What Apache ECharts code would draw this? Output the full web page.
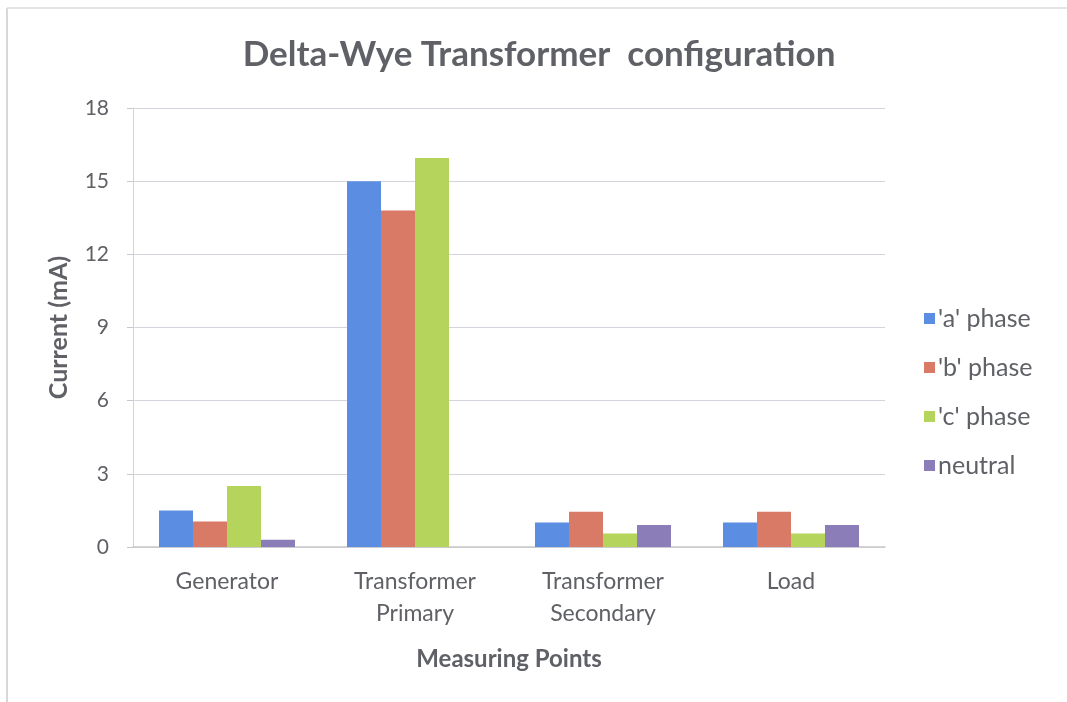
<!DOCTYPE html>
<html>
<head>
<meta charset="utf-8">
<script src="https://cdn.jsdelivr.net/npm/echarts@6/dist/echarts.min.js"></script>
<style>
  html, body { margin: 0; padding: 0; background: #fff; }
  #chart { width: 1067px; height: 702px; }
</style>
</head>
<body>
<div id="chart"></div>
<script>
// 数据
var categories = ['Generator', 'Transformer\nPrimary', 'Transformer\nSecondary', 'Load'];
var seriesNames = ["'a' phase", "'b' phase", "'c' phase", 'neutral'];
var aPhase = [1.5, 15, 1.0, 1.0];
var bPhase = [1.05, 13.8, 1.45, 1.45];
var cPhase = [2.5, 15.95, 0.55, 0.55];
var neutral = [0.3, 0, 0.9, 0.9];
var yTicks = [0, 3, 6, 9, 12, 15, 18];

var colors = ['#5b8de3', '#d97a66', '#b4d45c', '#8b7db8'];
var textColor = '#5f6166';
var font = 'Lato, "Open Sans", sans-serif';

var chart = echarts.init(document.getElementById('chart'));

function bar(name, data, color) {
  return {
    name: name,
    type: 'bar',
    data: data,
    barWidth: 34,
    barGap: '0%',
    itemStyle: { color: color }
  };
}

chart.setOption({
  textStyle: { fontFamily: font },
  title: {
    text: 'Delta-Wye Transformer  configuration',
    left: 534,
    top: 32,
    textAlign: 'center',
    textStyle: { fontSize: 35, fontWeight: 'bold', color: textColor, fontFamily: font }
  },
  legend: {
    orient: 'vertical',
    left: 919,
    top: 301,
    itemWidth: 11,
    itemHeight: 11,
    itemGap: 24,
    icon: 'rect',
    data: seriesNames,
    textStyle: { fontSize: 25, color: textColor, fontFamily: font, padding: [0, 0, 0, -2] }
  },
  grid: { left: 133, right: 182, top: 108, bottom: 155 },
  xAxis: {
    type: 'category',
    data: categories,
    name: 'Measuring Points',
    nameLocation: 'middle',
    nameGap: 100,
    nameTextStyle: { fontSize: 24, fontWeight: 'bold', color: textColor, fontFamily: font },
    axisLine: { lineStyle: { color: '#c8c8cc', width: 1.5 } },
    axisTick: { show: false },
    axisLabel: { fontSize: 23, color: textColor, lineHeight: 32, margin: 19, fontFamily: font }
  },
  yAxis: {
    type: 'value',
    min: yTicks[0],
    max: yTicks[yTicks.length - 1],
    interval: 3,
    name: 'Current (mA)',
    nameLocation: 'middle',
    nameGap: 62,
    nameTextStyle: { fontSize: 25, fontWeight: 'bold', color: textColor, fontFamily: font },
    axisLine: { show: true, lineStyle: { color: '#d4d4d8' } },
    axisTick: { show: true, length: 6, inside: false, lineStyle: { color: '#c8c8cc' } },
    axisLabel: { fontSize: 21, color: textColor, margin: 24, fontFamily: font },
    splitLine: { lineStyle: { color: '#d4d4dc', width: 1.2 } }
  },
  graphic: [
    { type: 'line', shape: { x1: 7, y1: 8, x2: 7, y2: 702 }, style: { stroke: '#d8d8d8', lineWidth: 2 } },
    { type: 'line', shape: { x1: 7, y1: 8, x2: 1067, y2: 8 }, style: { stroke: '#e4e4e4', lineWidth: 2 } }
  ],
  series: [
    bar(seriesNames[0], aPhase, colors[0]),
    bar(seriesNames[1], bPhase, colors[1]),
    bar(seriesNames[2], cPhase, colors[2]),
    bar(seriesNames[3], neutral, colors[3])
  ]
});
</script>
</body>
</html>
